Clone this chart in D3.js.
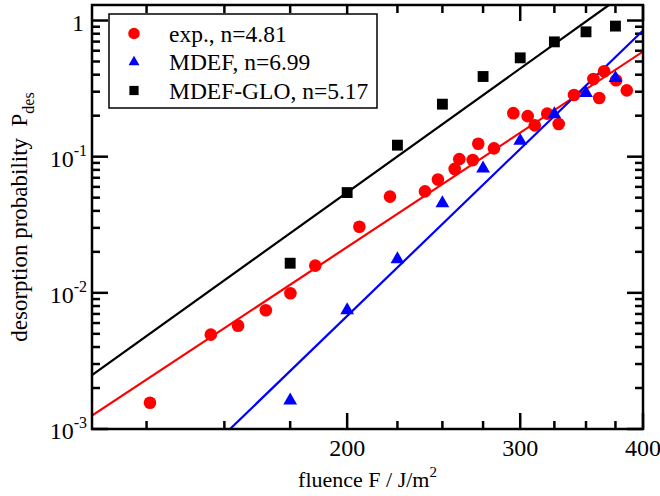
<!DOCTYPE html>
<html>
<head>
<meta charset="utf-8">
<script src="https://cdn.jsdelivr.net/npm/d3@7"></script>
<style>
  body { margin: 0; background: #fff; }
  svg { display: block; font-family: "Liberation Serif", "Times New Roman", serif; }
</style>
</head>
<body>
<svg id="chart" width="660" height="496"></svg>
<script>
'use strict';

// experimental points
let expF = [126, 145.3, 154.9, 165.3, 175.1, 185.6, 205.8, 221.1, 240, 247.4, 257.3, 260.1, 268.4,
            271.9, 282.1, 295.2, 305.3, 310.4, 319.6, 328.3, 340.3, 356.1, 361, 365.2, 375.5, 385.1],
    expP = [0.00156, 0.00493, 0.00574, 0.00745, 0.00993, 0.01585, 0.0306, 0.0509, 0.0556, 0.0679,
            0.0813, 0.0959, 0.0944, 0.1244, 0.1151, 0.2087, 0.1984, 0.1698, 0.207, 0.1736, 0.2836,
            0.3715, 0.2696, 0.4241, 0.3641, 0.307];

// MDEF
let mdefF = [175, 200, 225, 250, 275, 300, 325, 350, 375],
    mdefP = [0.00162, 0.00745, 0.01766, 0.0455, 0.0818, 0.1306, 0.2052, 0.2929, 0.3775];

// MDEF-GLO
let gloF = [175, 200, 225, 250, 275, 300, 325, 350, 375],
    gloP = [0.0165, 0.0545, 0.1215, 0.243, 0.388, 0.532, 0.697, 0.826, 0.910];

// power law fits, end points
let expFit  = [[110, 0.001253], [400, 0.5916]],
    mdefFit = [[152, 0.001], [400, 0.845]],
    gloFit  = [[110, 0.00249], [369.3, 1.3]];

let legendLabels = ["exp., n=4.81", "MDEF, n=6.99", "MDEF-GLO, n=5.17"];

let xMajor = [200, 300, 400],
    xMinor = [125, 150, 175, 225, 250, 275, 325, 350, 375],
    yMajor = [1e-3, 1e-2, 1e-1, 1],
    yMajorLabel = [["10", "-3"], ["10", "-2"], ["10", "-1"], ["1", ""]],
    yMinor = [];
[1e-3, 1e-2, 1e-1].forEach(function(d) {
  for (let k = 2; k <= 9; k++) yMinor.push(d * k);
});

let svg = d3.select("#chart"),
    plot = {left: 92, right: 643, top: 5, bottom: 429},
    x = d3.scaleLog().domain([110, 400]).range([plot.left, plot.right]),
    y = d3.scaleLog().domain([1e-3, 1.3]).range([plot.bottom, plot.top]);

svg.append("defs").append("clipPath")
    .attr("id", "clip")
  .append("rect")
    .attr("x", plot.left)
    .attr("y", plot.top)
    .attr("width", plot.right - plot.left)
    .attr("height", plot.bottom - plot.top);

// ticks on all four sides, pointing inwards
let tickG = svg.append("g")
    .attr("stroke", "#000")
    .attr("stroke-width", 2.5);

function xticks(vals, len) {
  vals.forEach(function(v) {
    tickG.append("line")
        .attr("x1", x(v)).attr("x2", x(v))
        .attr("y1", plot.bottom).attr("y2", plot.bottom - len);
    tickG.append("line")
        .attr("x1", x(v)).attr("x2", x(v))
        .attr("y1", plot.top).attr("y2", plot.top + len);
  });
}
function yticks(vals, len) {
  vals.forEach(function(v) {
    tickG.append("line")
        .attr("y1", y(v)).attr("y2", y(v))
        .attr("x1", plot.left).attr("x2", plot.left + len);
    tickG.append("line")
        .attr("y1", y(v)).attr("y2", y(v))
        .attr("x1", plot.right).attr("x2", plot.right - len);
  });
}
xticks(xMajor, 16);
xticks(xMinor, 8);
yticks(yMajor, 16);
yticks(yMinor, 8);

// fit lines
let line = d3.line()
    .x(function(d) { return x(d[0]); })
    .y(function(d) { return y(d[1]); });

let lines = svg.append("g").attr("clip-path", "url(#clip)");
[[expFit, "#ff0000"], [mdefFit, "#0000ff"], [gloFit, "#000000"]].forEach(function(d) {
  lines.append("path")
      .attr("d", line(d[0]))
      .attr("fill", "none")
      .attr("stroke", d[1])
      .attr("stroke-width", 2.2);
});

// data points
let sym = {
  circle:   d3.symbol().type(d3.symbolCircle).size(125),
  triangle: d3.symbol().type(d3.symbolTriangle).size(82),
  square:   d3.symbol().type(d3.symbolSquare).size(118)
};

function points(F, P, s, color) {
  svg.append("g").selectAll("path")
      .data(F.map(function(f, i) { return [f, P[i]]; }))
    .enter().append("path")
      .attr("d", s)
      .attr("fill", color)
      .attr("transform", function(d) { return "translate(" + x(d[0]) + "," + y(d[1]) + ")"; });
}
points(expF, expP, sym.circle(), "#ff0000");
points(mdefF, mdefP, sym.triangle(), "#0000ff");
points(gloF, gloP, sym.square(), "#000000");

// frame
svg.append("rect")
    .attr("x", plot.left)
    .attr("y", plot.top)
    .attr("width", plot.right - plot.left)
    .attr("height", plot.bottom - plot.top)
    .attr("fill", "none")
    .attr("stroke", "#000")
    .attr("stroke-width", 2.5);

// tick labels
xMajor.forEach(function(v) {
  svg.append("text")
      .attr("x", x(v))
      .attr("y", 456)
      .attr("text-anchor", "middle")
      .attr("font-size", 24)
      .text(v);
});

yMajor.forEach(function(v, i) {
  let t = svg.append("text")
      .attr("x", yMajorLabel[i][1] ? 87 : 84)
      .attr("y", y(v) + 10)
      .attr("text-anchor", "end")
      .attr("font-size", 24);
  t.append("tspan").text(yMajorLabel[i][0]);
  if (yMajorLabel[i][1])
    t.append("tspan")
        .attr("font-size", 16)
        .attr("dy", -11)
        .text(yMajorLabel[i][1]);
});

// axis titles
let xt = svg.append("text")
    .attr("x", (plot.left + plot.right) / 2)
    .attr("y", 487)
    .attr("text-anchor", "middle")
    .attr("font-size", 22);
xt.append("tspan").text("fluence F / J/m");
xt.append("tspan").attr("font-size", 15).attr("dy", -10).text("2");

let yt = svg.append("text")
    .attr("transform", "translate(27," + (plot.top + plot.bottom) / 2 + ") rotate(-90)")
    .attr("text-anchor", "middle")
    .attr("font-size", 23);
yt.append("tspan").text("desorption probability\u00a0\u00a0P");
yt.append("tspan").attr("font-size", 16).attr("dy", 7).text("des");

// legend
let lg = svg.append("g");
lg.append("rect")
    .attr("x", 109).attr("y", 14)
    .attr("width", 268).attr("height", 94)
    .attr("fill", "#fff")
    .attr("stroke", "#000")
    .attr("stroke-width", 1.5);

let legendSym = [
  [d3.symbol().type(d3.symbolCircle).size(105)(), "#ff0000"],
  [d3.symbol().type(d3.symbolTriangle).size(52)(), "#0000ff"],
  [d3.symbol().type(d3.symbolSquare).size(85)(), "#000000"]
];
legendLabels.forEach(function(d, i) {
  let cy = 33.5 + i * 28.5;
  lg.append("path")
      .attr("d", legendSym[i][0])
      .attr("fill", legendSym[i][1])
      .attr("transform", "translate(134," + cy + ")");
  lg.append("text")
      .attr("x", 169)
      .attr("y", cy + 8)
      .attr("font-size", 23.5)
      .text(d);
});
</script>
</body>
</html>
